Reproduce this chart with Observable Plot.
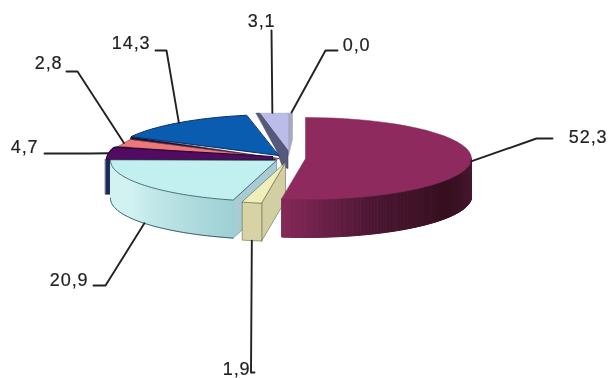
<!DOCTYPE html>
<html><head><meta charset="utf-8">
<script src="https://cdn.jsdelivr.net/npm/d3@7"></script>
<script src="https://cdn.jsdelivr.net/npm/@observablehq/plot@0.6"></script>
<style>html,body{margin:0;padding:0;background:#fff}svg{display:block;filter:blur(.45px)}svg text{letter-spacing:.9px;stroke:#222;stroke-width:.2px}</style>
</head><body><div id="chart"></div>
<script>
// Data
const values = [52.3, 1.9, 20.9, 4.7, 2.8, 14.3, 3.1, 0.0];
const tops   = ["#8e2a5e","#f0eebb","#c2f0f0","#540a62","#ee7878","#0a5cb0","#bcbce8","#bcbce8"];
const edges  = ["#7a2350","#55553a","#2f5560","#1a1030","#a05058","#0c2c60","#8a8ab0","#8a8ab0"];

// Layout of the exploded pie
const apexX = [305,285,276,272,277,278,288,288];
const apexY = [158,162,160,159,158,155,153,153];
const RX = 166, RY = 41, DEPTH = 38;
const tailX  = [552,254,93,44,66,155,271,337];
const elbowX = [536,250.5,105,90,77,166,271,325];
const elbowY = [138,372,285,153,71,50,30,50];
const labelX = [607,250,88,38,62,150,275,370];
const labelY = [137,369,280,147,63,43,21,45];

const sum = d3.sum(values);
let acc = 0;
const slices = values.map((v,i)=>{
  const a0 = acc/sum*2*Math.PI; acc += v;
  const a1 = acc/sum*2*Math.PI;
  return {i,v,a0,a1,mid:(a0+a1)/2,ax:apexX[i],ay:apexY[i]};
});
const rim = (s,a)=>[s.ax+RX*Math.sin(a), s.ay-RY*Math.cos(a)];
const arc = (s,a,b,n=40)=>d3.range(n+1).map(k=>rim(s,a+(b-a)*k/n));
const shift = (pts,dx,dy)=>pts.map(([x,y])=>[x+dx,y+dy]);

const polys = [];
let id = 0;
const add = (pts,fill,stroke=fill,sw=0.6)=>{const z=id++; pts.forEach(([x,y])=>polys.push({x,y,z,fill,stroke,sw}));};
const topFace = s=>[[s.ax,s.ay],...arc(s,s.a0,s.a1)];
// wall with stepped shading along the rim
const wall = (s,a,b,ramp,n=170)=>{
  d3.range(n).forEach(k=>{
    const p=rim(s,a+(b-a)*k/n), q=rim(s,a+(b-a)*(k+1)/n);
    add([p,q,[q[0],q[1]+DEPTH],[p[0],p[1]+DEPTH]],ramp(k/(n-1)),ramp(k/(n-1)),1);
  });
};
const [mar,yel,cya,pur,pin,blu,lav] = slices;

// lavender, back of the pie
const lavR = rim(lav,lav.a0), lavA=[lav.ax,lav.ay];
add([[lavA[0]-1,lavR[1]],[lavA[0]+4,lavR[1]],[lavA[0]+4,lavA[1]-14],[lavA[0],lavA[1]+2]],"#a8a8c4");
add(topFace(lav).map(([x,y])=>[x,Math.max(y,lavR[1])]),tops[6],"#a0a0cc");
add([lavR,[lavR[0]+3.5,lavR[1]],[lavA[0]-.5,lavA[1]-3],[lavA[0]-.5,lavA[1]+15],[lavA[0]-6,lavA[1]+13],[lavA[0]-12,lavA[1]-3]],"#55597c","#3c4060");
// dark underlay between the back slices
add([[blu.ax,blu.ay+3],rim(blu,blu.a0),rim(pin,pin.a1),rim(pin,pin.a0),rim(pur,pur.a1),rim(pur,pur.a0),[pur.ax,pur.ay+1]],"#1a1030");
// blue
add(topFace(blu),tops[5],edges[5],1);
// pink
add(topFace(pin),tops[4],"#b06068",.6);
// purple wall strip and top
const pr = rim(pur,pur.a0);
add([[pr[0]-1,pr[1]],[pr[0]+4,pr[1]],[pr[0]+4,pr[1]+DEPTH-3],[pr[0]-1,pr[1]+DEPTH-3]],"#1c2a55");
add([[pur.ax,pur.ay],[pur.ax,pur.ay-3],...arc(pur,pur.a1,pur.a0)],tops[3],"#200a30",1.1);
// cyan
const c0 = rim(cya,cya.a0);
add([c0,[cya.ax,cya.ay],[cya.ax,cya.ay+DEPTH],[c0[0],c0[1]+DEPTH]],"#a8ccd4","#5a8088");
wall(cya,cya.a0,cya.a1,t=>d3.interpolateRgb("#9ed0d4","#d2f2f2")(Math.min(1,t*1.6)));
add(topFace(cya),tops[2],edges[2],.8);
// yellow
const y0 = rim(yel,yel.a0);
add([y0,[yel.ax,yel.ay],[yel.ax,yel.ay+DEPTH],[y0[0],y0[1]+DEPTH]],"#d2d0a2","#66664a");
add([...arc(yel,yel.a0,yel.a1,6),...shift(arc(yel,yel.a0,yel.a1,6),0,DEPTH).reverse()],"#d8d3a4","#66664a");
add(topFace(yel),tops[1],"#66664a");
// maroon
wall(mar,Math.PI/2,mar.a1,t=>d3.piecewise(d3.interpolateRgb,["#4e1c38","#36101f","#4a1632","#842858"])(t));
add(topFace(mar),tops[0],"#7f2654",.5);

// Outline of the cyan rim
const cOut = shift(arc(cya,cya.a0,cya.a1),0,DEPTH).map(([x,y])=>({x,y}));

// Leaders: anchors follow each slice's mid-angle
const leaders = [];
slices.forEach((s,i)=>{
  const front = i===1 || i===2;
  let p = rim(s,s.mid);
  if(front) p=[p[0],p[1]+DEPTH];
  if(i===7) p=[p[0]+3,p[1]];
  const pts = [p,[elbowX[i],elbowY[i]],[tailX[i],elbowY[i]]];
  pts.forEach(([x,y])=>leaders.push({x,y,i}));
});
const labels = values.map((v,i)=>({x:labelX[i],y:labelY[i],t:v.toFixed(1).replace(".",",")}));

const chart = Plot.plot({
  width:608,height:378,margin:0,
  x:{domain:[0,608],range:[0,608],axis:null},
  y:{domain:[0,378],range:[0,378],axis:null},
  color:{type:"identity"},
  marks:[
    Plot.line(polys,{x:"x",y:"y",z:"z",fill:"fill",stroke:"stroke",strokeWidth:"sw",curve:"linear-closed"}),
    Plot.line(cOut,{x:"x",y:"y",stroke:"#2f5560",strokeWidth:.9}),
    Plot.line(leaders,{x:"x",y:"y",z:"i",stroke:"#222",strokeWidth:1.9}),
    Plot.text(labels,{x:"x",y:"y",text:"t",textAnchor:"end",fontFamily:"Liberation Sans",fontSize:18,fill:"#222"})
  ]
});
document.getElementById("chart").append(chart);
</script></body></html>
